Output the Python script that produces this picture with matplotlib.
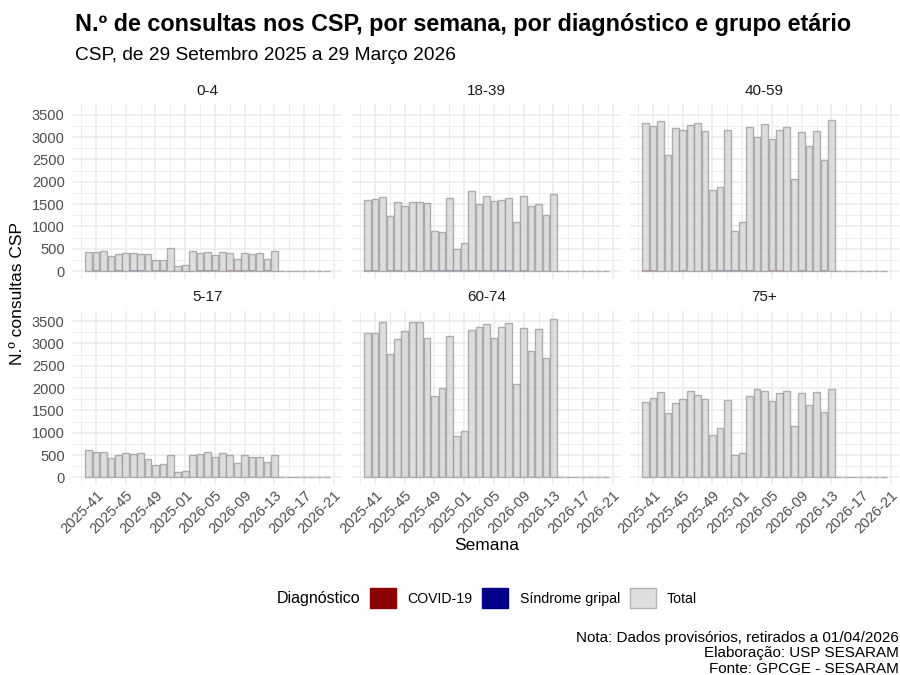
import matplotlib
matplotlib.use("Agg")
import matplotlib.pyplot as plt
from matplotlib.patches import Patch
from matplotlib.ticker import FixedLocator, MultipleLocator

plt.rcParams['font.family'] = ['Liberation Sans', 'DejaVu Sans']

# ---------------- data ----------------
weeks_2025 = [f"2025-{w:02d}" for w in range(40, 53)]
weeks_2026 = [f"2026-{w:02d}" for w in range(1, 22)]
weeks = weeks_2025 + weeks_2026            # axis weeks 2025-40 .. 2026-21
n_data_weeks = 33                          # bars drawn 2025-40 .. 2026-20

groups = ["0-4", "18-39", "40-59", "5-17", "60-74", "75+"]

total_0_4 = [425, 425, 455, 343, 373, 410, 395, 380, 373, 239, 254, 522, 112,
             134, 455, 395, 433, 365, 425, 395, 269, 410, 373, 395, 276, 455]
total_18_39 = [1582, 1604, 1664, 1231, 1544, 1462, 1552, 1552, 1529, 888, 865, 1641, 500,
               627, 1790, 1500, 1679, 1559, 1596, 1634, 1104, 1686, 1462, 1500, 1246, 1716]
total_40_59 = [3320, 3253, 3364, 2604, 3200, 3171, 3268, 3312, 3133, 1805, 1887, 3171, 903,
               1089, 3223, 2999, 3297, 2954, 3156, 3223, 2066, 3118, 2805, 3141, 2499, 3387]
total_5_17 = [619, 560, 574, 440, 500, 545, 515, 537, 418, 269, 298, 492, 112,
              142, 492, 530, 560, 455, 545, 507, 328, 500, 455, 448, 343, 500]
total_60_74 = [3230, 3230, 3476, 2753, 3103, 3290, 3484, 3484, 3133, 1828, 1999, 3178, 925,
               1044, 3305, 3364, 3432, 3111, 3364, 3469, 2089, 3342, 2820, 3327, 2678, 3558]
total_75 = [1679, 1783, 1910, 1440, 1656, 1746, 1940, 1850, 1761, 947, 1097, 1731, 507,
            537, 1820, 1984, 1932, 1701, 1880, 1932, 1156, 1895, 1626, 1910, 1455, 1977]
zero_weeks = [0, 0, 0, 0, 0, 0, 0]         # 2026-14 .. 2026-20

covid_0_4 = [0, 20, 0, 0, 20, 0, 0, 0, 0, 20, 20, 0, 0,
             0, 0, 0, 0, 0, 0, 20, 20, 20, 0, 0, 0, 0]
gripal_0_4 = [0, 0, 0, 0, 0, 0, 20, 20, 0, 0, 0, 0, 0,
              0, 0, 20, 20, 20, 0, 0, 0, 0, 20, 0, 20, 0]
covid_18_39 = [20, 20, 0, 20, 0, 0, 20, 0, 20, 0, 0, 0, 0,
               0, 0, 20, 20, 0, 0, 0, 0, 20, 0, 0, 0, 0]
gripal_18_39 = [0, 0, 0, 0, 20, 0, 0, 0, 0, 20, 20, 20, 20,
                20, 20, 0, 0, 20, 20, 20, 0, 0, 0, 0, 0, 0]
covid_40_59 = [20, 20, 0, 0, 0, 20, 0, 0, 0, 0, 0, 0, 0,
               0, 20, 0, 0, 20, 20, 0, 0, 20, 0, 0, 0, 0]
gripal_40_59 = [0, 0, 0, 0, 0, 0, 0, 0, 0, 20, 20, 20, 20,
                20, 0, 0, 0, 0, 0, 0, 0, 0, 0, 0, 20, 0]
covid_5_17 = [0] * 26
gripal_5_17 = [0] * 26
covid_60_74 = [0] * 26
gripal_60_74 = [0] * 26
covid_75 = [0] * 26
gripal_75 = [0] * 26

totals = [total_0_4, total_18_39, total_40_59, total_5_17, total_60_74, total_75]
covids = [covid_0_4, covid_18_39, covid_40_59, covid_5_17, covid_60_74, covid_75]
gripais = [gripal_0_4, gripal_18_39, gripal_40_59, gripal_5_17, gripal_60_74, gripal_75]

tick_weeks = ["2025-41", "2025-45", "2025-49", "2026-01", "2026-05",
              "2026-09", "2026-13", "2026-17", "2026-21"]
tick_labels = ["2025-41", "2025-45", "2025-49", "2025-01", "2026-05",
               "2026-09", "2026-13", "2026-17", "2026-21"]
y_ticks = [0, 500, 1000, 1500, 2000, 2500, 3000, 3500]

# ---------------- style ----------------
C_COVID = "#8B0000"
C_GRIPAL = "#00008B"
C_TOTAL = "#D3D3D3"
C_EDGE = "#999999"
GRID = "#EBEBEB"
TXT = "#4D4D4D"

W, H = 900, 675
fig = plt.figure(figsize=(9, 6.75), dpi=100)

col_left = [73, 352, 630]
col_w = 269
row_top = [104.3, 310.6]
row_h = 174.7

pos_x = list(range(n_data_weeks))
n = n_data_weeks
lo, hi = -0.45, n - 1 + 0.45
xpad = 0.05 * (hi - lo)
ymax_data = max(max(t) for t in totals)
ylims = (-0.05 * ymax_data, 1.05 * ymax_data)

tick_pos = [weeks.index(w) for w in tick_weeks]
minor_pos = [p - 2 for p in tick_pos] + [tick_pos[-1] + 2]

for i, g in enumerate(groups):
    r, c = divmod(i, 3)
    left = col_left[c] / W
    bottom = 1 - (row_top[r] + row_h) / H
    ax = fig.add_axes([left, bottom, col_w / W, row_h / H])
    tot = totals[i] + zero_weeks
    cov = covids[i] + zero_weeks
    gri = gripais[i] + zero_weeks
    ax.bar(pos_x, cov, width=0.9, color=C_COVID, linewidth=0, zorder=2)
    ax.bar(pos_x, gri, width=0.9, color=C_GRIPAL, linewidth=0, zorder=2)
    ax.bar(pos_x, tot, width=0.9, color=C_TOTAL, edgecolor=C_EDGE,
           linewidth=1.0, alpha=0.75, zorder=3)
    ax.set_xlim(lo - xpad, hi + xpad)
    ax.set_ylim(*ylims)
    ax.xaxis.set_major_locator(FixedLocator(tick_pos))
    ax.xaxis.set_minor_locator(FixedLocator(minor_pos))
    ax.yaxis.set_major_locator(FixedLocator(y_ticks))
    ax.yaxis.set_minor_locator(MultipleLocator(250))
    ax.grid(True, which='major', color=GRID, linewidth=1.1, zorder=0)
    ax.grid(True, which='minor', color=GRID, linewidth=0.6, zorder=0)
    ax.set_axisbelow(True)
    for s in ax.spines.values():
        s.set_visible(False)
    ax.tick_params(which='both', length=0)
    ax.tick_params(axis='y', pad=6, labelsize=10.5, labelcolor=TXT)
    ax.tick_params(axis='x', pad=2, labelsize=10.5, labelcolor=TXT)
    if r == 1:
        ax.set_xticklabels(tick_labels, rotation=45, ha='right', va='top',
                           rotation_mode='anchor')
    else:
        ax.set_xticklabels([])
    if c == 0:
        ax.set_yticklabels([str(v) for v in y_ticks])
    else:
        ax.set_yticklabels([])
    ax.set_title(g, fontsize=11, color="#1A1A1A", pad=7)

# titles
fig.text(75 / W, 1 - 25 / H, "N.º de consultas nos CSP, por semana, por diagnóstico e grupo etário",
         fontsize=16.8, fontweight='bold', ha='left', va='center', color='black')
fig.text(75 / W, 1 - 55 / H, "CSP, de 29 Setembro 2025 a 29 Março 2026",
         fontsize=13.8, ha='left', va='center', color='black')

fig.text(18 / W, 1 - 294 / H, "N.º consultas CSP", rotation=90, fontsize=12.5,
         ha='center', va='center', color='black')
fig.text(487 / W, 1 - 546 / H, "Semana", fontsize=12.5, ha='center', va='center',
         color='black')

# legend
fig.text(277 / W, 1 - 598 / H, "Diagnóstico", fontsize=11.5, ha='left', va='center')
handles = [Patch(facecolor=C_COVID, edgecolor=C_COVID, label="COVID-19"),
           Patch(facecolor=C_GRIPAL, edgecolor=C_GRIPAL, label="Síndrome gripal"),
           Patch(facecolor="#DEDEDE", edgecolor="#B3B3B3", linewidth=1.0, label="Total")]
fig.legend(handles=handles, loc='center left', bbox_to_anchor=(370 / W, 1 - 598 / H),
           ncol=3, frameon=False, fontsize=10.2, borderpad=0, borderaxespad=0,
           handlelength=1.83, handleheight=1.76, handletextpad=0.8, columnspacing=0.7)

fig.text(899 / W, 1 - 631 / H,
         "Nota: Dados provisórios, retirados a 01/04/2026\nElaboração: USP SESARAM\nFonte: GPCGE - SESARAM",
         fontsize=11, ha='right', va='top', multialignment='right', linespacing=1.12,
         color='black')

fig.savefig("out.png", dpi=100)
